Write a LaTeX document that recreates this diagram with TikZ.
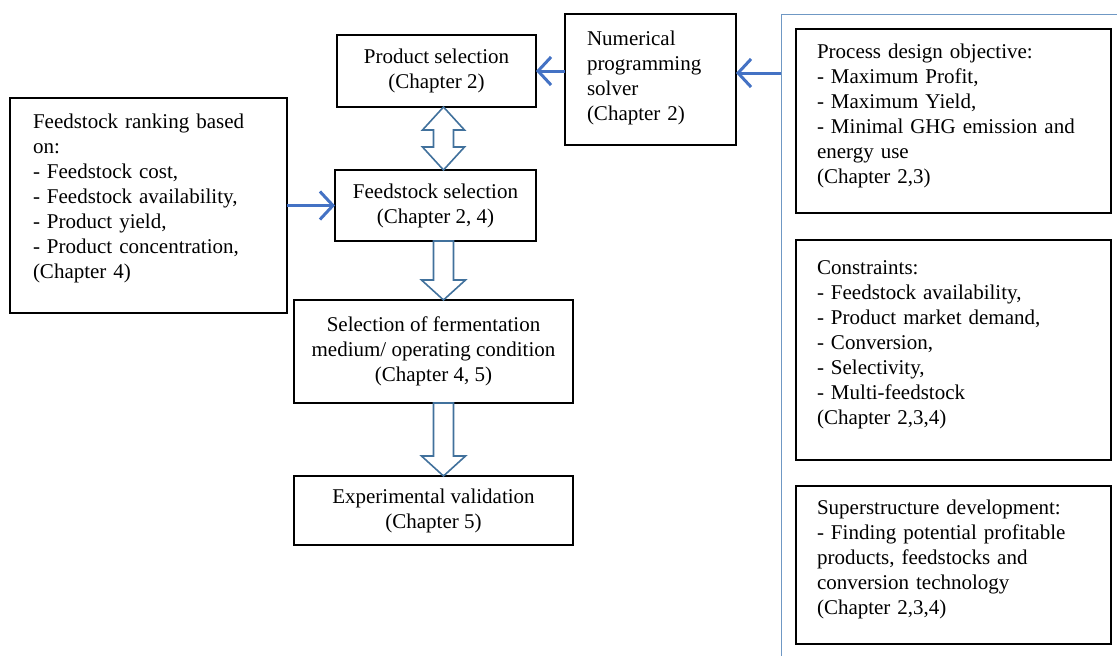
\documentclass[tikz,border=0pt]{standalone}
\usepackage{fontspec}
\setmainfont{Liberation Serif}
\usetikzlibrary{arrows.meta,calc}
\definecolor{linkblue}{HTML}{4472C4}
\definecolor{outlineblue}{HTML}{41719C}
\definecolor{panelblue}{HTML}{6F98C4}
\tikzset{
  box/.style={draw=black, line width=1.6pt, fill=white, inner sep=0pt, outer sep=0pt,
    anchor=north west, font=\fontsize{21}{25}\selectfont},
  ctext/.style={box, align=center},
  ltext/.style={inner sep=0pt, align=left, font=\fontsize{21}{25}\selectfont},
  link/.style={draw=linkblue, line width=3pt, -{Straight Barb[length=13pt,width=28pt,line width=3pt]}},
  hollow/.style={draw=outlineblue, line width=1.6pt, fill=white, line join=miter},
}
% hollow block arrow pointing down: #1 top point, #2 tip point, #3 x offset of axis
\newcommand{\blockdown}[3]{%
  \draw[hollow] let \p1=(#1), \p2=(#2) in
    (\x1+#3-10pt,\y1) -- (\x1+#3-10pt,\y2+20pt) -- (\x1+#3-22pt,\y2+20pt) -- (\x1+#3,\y2)
    -- (\x1+#3+22pt,\y2+20pt) -- (\x1+#3+10pt,\y2+20pt) -- (\x1+#3+10pt,\y1) -- cycle;}
% hollow block arrow with heads at both ends
\newcommand{\blockboth}[3]{%
  \draw[hollow] let \p1=(#1), \p2=(#2) in
    (\x1+#3,\y1) -- (\x1+#3+21pt,\y1-23pt) -- (\x1+#3+10pt,\y1-23pt) -- (\x1+#3+10pt,\y2+23pt)
    -- (\x1+#3+21pt,\y2+23pt) -- (\x1+#3,\y2) -- (\x1+#3-21pt,\y2+23pt) -- (\x1+#3-10pt,\y2+23pt)
    -- (\x1+#3-10pt,\y1-23pt) -- (\x1+#3-21pt,\y1-23pt) -- cycle;}
\begin{document}
\begin{tikzpicture}[x=1pt,y=-1pt]
\useasboundingbox (0,0) rectangle (1117,656);

% panel frame on the right
\draw[panelblue, line width=1pt] (1120,14) -- (781,14) -- (781,660);
\coordinate (port) at (781,73);

% main flow
\node[ctext, minimum width=199pt, minimum height=72pt] (prod) at (337,35) {Product selection\\(Chapter 2)};
\node[ctext, minimum width=201pt, minimum height=71pt] (feed) at (335,170) {Feedstock selection\\(Chapter 2, 4)};
\node[ctext, minimum width=279pt, minimum height=103pt] (ferm) at (294,300) {Selection of fermentation\\medium/ operating condition\\(Chapter 4, 5)};
\node[ctext, minimum width=279pt, minimum height=69pt] (expt) at (294,476) {Experimental validation\\(Chapter 5)};

% solver
\node[box, minimum width=171pt, minimum height=131pt] (solver) at (565,14) {};
\node[ltext, text width=127pt] (solvertxt) at ([yshift=2pt]solver.center) {Numerical\\programming\\solver\\(Chapter 2)};

% feedstock ranking
\node[box, minimum width=277pt, minimum height=215pt] (rank) at (10,98) {};
\node[ltext, text width=231pt] (ranktxt) at ([yshift=7pt]rank.center) {Feedstock ranking based\\on:\\- Feedstock cost,\\- Feedstock availability,\\- Product yield,\\- Product concentration,\\(Chapter 4)};

% right panel boxes
\node[box, minimum width=315pt, minimum height=184pt] (obj) at (796,29) {};
\node[ltext, text width=273pt] (objtxt) at ([yshift=5pt]obj.center) {Process design objective:\\- Maximum Profit,\\- Maximum Yield,\\- Minimal GHG emission and\\energy use\\(Chapter 2,3)};

\node[box, minimum width=315pt, minimum height=220pt] (cons) at (796,240) {};
\node[ltext, text width=273pt] (constxt) at ([yshift=5pt]cons.center) {Constraints:\\- Feedstock availability,\\- Product market demand,\\- Conversion,\\- Selectivity,\\- Multi-feedstock\\(Chapter 2,3,4)};

\node[box, minimum width=315pt, minimum height=158pt] (sup) at (796,486) {};
\node[ltext, text width=273pt] (suptxt) at ([yshift=6pt]sup.center) {Superstructure development:\\- Finding potential profitable\\products, feedstocks and\\conversion technology\\(Chapter 2,3,4)};

% block arrows
\blockboth{prod.south}{feed.north}{7pt}
\blockdown{feed.south}{ferm.north}{8pt}
\blockdown{ferm.south}{expt.north}{10pt}

% line arrows
\draw[link] (solver.west |- prod.east) -- (prod.east);
\draw[link] (port) -- (port -| solver.east);
\draw[link] (rank.east |- feed.west) -- (feed.west);
\end{tikzpicture}
\end{document}
